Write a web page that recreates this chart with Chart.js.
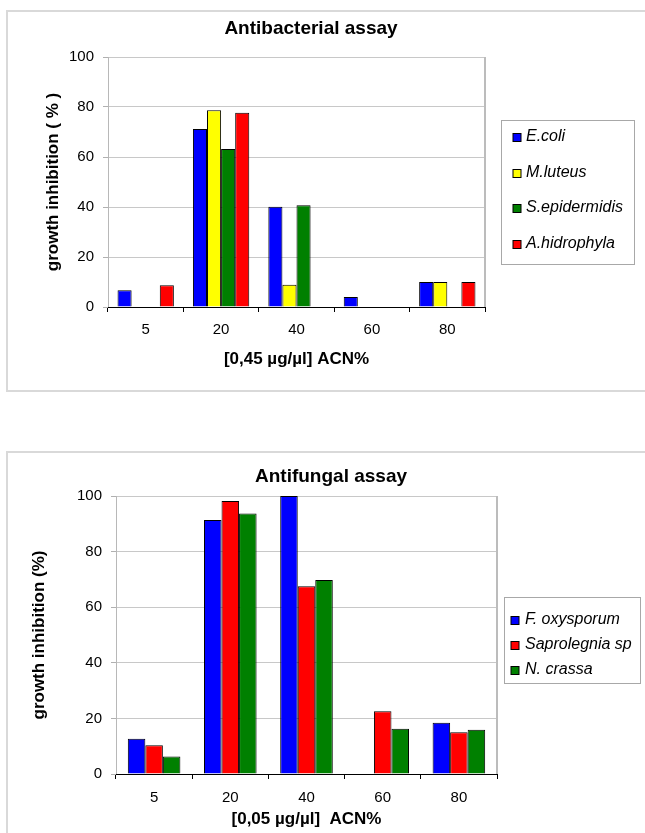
<!DOCTYPE html>
<html>
<head>
<meta charset="utf-8">
<script src="https://cdn.jsdelivr.net/npm/chart.js@4.4.0/dist/chart.umd.min.js"></script>
<style>
body{margin:0;background:#fff;width:645px;height:833px;position:relative;overflow:hidden;}
.frame{position:absolute;left:6px;width:660px;border:2px solid #d9d9d9;box-sizing:border-box;}
canvas{position:absolute;left:0;}
</style>
</head>
<body>
<div class="frame" style="top:10px;height:382px"></div>
<div class="frame" style="top:451px;height:400px"></div>
<canvas id="abChart" width="645" height="400" style="top:0"></canvas>
<canvas id="afChart" width="645" height="393" style="top:440px"></canvas>
<script>
// ACN% fractions
var categories = ['5', '20', '40', '60', '80'];

// antibacterial assay, growth inhibition %
var ecoli        = [6.7, 71.2, 40.1, 4.0, 10.0];
var mluteus      = [0, 78.7, 8.9, 0, 10.0];
var sepidermidis = [0, 63.2, 40.7, 0, 0];
var ahidrophyla  = [8.7, 77.7, 0, 0, 10.0];

// antifungal assay, growth inhibition %
var foxysporum  = [12.7, 91.4, 100, 0, 18.4];
var saprolegnia = [10.3, 98.2, 67.5, 22.6, 15.0];
var ncrassa     = [6.3, 93.7, 69.8, 16.3, 15.9];

var yTicks = [0, 20, 40, 60, 80, 100];

Chart.defaults.font.family = '"Liberation Sans", Arial, sans-serif';
Chart.defaults.color = '#000';

// excel-ish extras: right frame line, title, boxed legend
var excelBits = {
    id: 'excelBits',
    beforeDatasetsDraw: function(chart) {
        var a = chart.chartArea, ctx = chart.ctx;
        ctx.save();
        ctx.strokeStyle = '#bcbcbc';
        ctx.lineWidth = 2;
        ctx.beginPath();
        ctx.moveTo(a.right, a.top);
        ctx.lineTo(a.right, a.bottom);
        ctx.stroke();
        ctx.restore();
    },
    afterDraw: function(chart, args, opts) {
        var ctx = chart.ctx, L = opts.legend;
        ctx.save();
        ctx.fillStyle = '#000';
        ctx.font = 'bold 19px "Liberation Sans", Arial, sans-serif';
        ctx.textAlign = 'center';
        ctx.textBaseline = 'middle';
        ctx.fillText(opts.title, opts.titleX, opts.titleY);

        ctx.strokeStyle = '#a8a8a8';
        ctx.lineWidth = 1;
        ctx.strokeRect(L.x + 0.5, L.y + 0.5, L.w, L.h);
        ctx.font = 'italic 16px "Liberation Sans", Arial, sans-serif';
        ctx.textAlign = 'left';
        chart.data.datasets.forEach(function(ds, i) {
            var y = Math.round(L.first + i * L.step);
            ctx.fillStyle = ds.backgroundColor;
            ctx.fillRect(L.x + L.mark + 0.5, y - 4, 8, 8);
            ctx.strokeStyle = '#000';
            ctx.strokeRect(L.x + L.mark + 0.5, y - 4 + 0.5, 8, 8);
            ctx.fillStyle = '#000';
            ctx.fillText(ds.label, L.x + L.text, y);
        });
        ctx.restore();
    }
};

function barSet(label, color, data) {
    return {label: label, data: data, backgroundColor: color, borderColor: '#000', borderWidth: 1};
}

function makeChart(el, datasets, o) {
    return new Chart(document.getElementById(el), {
        type: 'bar',
        data: {labels: categories, datasets: datasets},
        plugins: [excelBits],
        options: {
            responsive: false,
            animation: false,
            datasets: {bar: {categoryPercentage: o.cat, barPercentage: 1}},
            layout: {padding: o.pad},
            plugins: {
                legend: {display: false},
                tooltip: {enabled: false},
                excelBits: o.bits
            },
            scales: {
                x: {
                    grid: {offset: true, drawOnChartArea: false, color: '#000', tickLength: 5},
                    border: {color: '#000', z: 1},
                    ticks: {font: {size: 15}, padding: o.xPad},
                    title: {display: true, text: o.xTitle, font: {size: 17, weight: 'bold'}, padding: 0},
                    afterFit: function(s) { s.height = o.xH; }
                },
                y: {
                    min: 0, max: 100,
                    afterBuildTicks: function(s) { s.ticks = yTicks.map(function(v) { return {value: v}; }); },
                    grid: {color: '#c8c8c8', tickColor: '#b0b0b0', tickLength: 5},
                    border: {color: '#b8b8b8'},
                    ticks: {font: {size: 15}, padding: 9},
                    title: {display: true, text: o.yTitle, font: {size: 17, weight: 'bold'}, padding: {top: o.yTitlePad, bottom: 0}},
                    afterFit: function(s) { s.width = o.yW; }
                }
            }
        }
    });
}

makeChart('abChart', [
    barSet('E.coli', '#0000ff', ecoli),
    barSet('M.luteus', '#ffff00', mluteus),
    barSet('S.epidermidis', '#008000', sepidermidis),
    barSet('A.hidrophyla', '#ff0000', ahidrophyla)
], {
    cat: 0.747,
    pad: {left: 0, top: 57, right: 160, bottom: 30},
    xPad: 9, xH: 63, yW: 108, yTitlePad: 43,
    xTitle: '[0,45 µg/µl] ACN%',
    yTitle: 'growth inhibition ( % )',
    bits: {title: 'Antibacterial assay', titleX: 311, titleY: 29,
        legend: {x: 501, y: 120, w: 133, h: 144, first: 137, step: 35.7, mark: 11.5, text: 25}}
});

makeChart('afChart', [
    barSet('F. oxysporum', '#0000ff', foxysporum),
    barSet('Saprolegnia sp', '#ff0000', saprolegnia),
    barSet('N. crassa', '#008000', ncrassa)
], {
    cat: 0.69,
    pad: {left: 0, top: 56, right: 148, bottom: 3},
    xPad: 10, xH: 56, yW: 116, yTitlePad: 29,
    xTitle: '[0,05 µg/µl]  ACN%',
    yTitle: 'growth inhibition (%)',
    bits: {title: 'Antifungal assay', titleX: 331, titleY: 37,
        legend: {x: 504, y: 157, w: 136, h: 86, first: 180, step: 25, mark: 6.5, text: 21}}
});
</script>
</body>
</html>
